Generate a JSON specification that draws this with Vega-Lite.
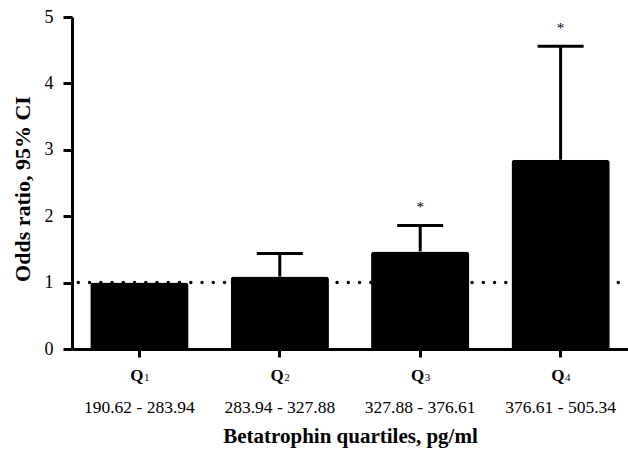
{
  "$schema": "https://vega.github.io/schema/vega-lite/v6.json",
  "width": 556,
  "height": 332,
  "autosize": {"type": "none"},
  "padding": {"left": 72, "top": 17, "right": 0, "bottom": 101},
  "background": "white",
  "config": {
    "view": {"stroke": null},
    "font": "Times New Roman, Liberation Serif, serif",
    "text": {"font": "Times New Roman, Liberation Serif, serif"},
    "axis": {"grid": false, "domainColor": "black", "tickColor": "black", "labelColor": "black", "titleColor": "black", "labelFont": "Times New Roman, Liberation Serif, serif", "titleFont": "Times New Roman, Liberation Serif, serif"}
  },
  "data": {
    "values": [
      {"range": "190.62 - 283.94", "q": "Q", "sub": "1", "or": 1.0, "upper": null, "sig": ""},
      {"range": "283.94 - 327.88", "q": "Q", "sub": "2", "or": 1.09, "upper": 1.44, "sig": ""},
      {"range": "327.88 - 376.61", "q": "Q", "sub": "3", "or": 1.47, "upper": 1.86, "sig": "*"},
      {"range": "376.61 - 505.34", "q": "Q", "sub": "4", "or": 2.85, "upper": 4.56, "sig": "*"}
    ]
  },
  "layer": [
    {
      "data": {"values": [{"ref": 1}]},
      "mark": {"type": "rule", "color": "black", "strokeWidth": 3.5, "strokeCap": "round", "strokeDash": [0.01, 11.24], "strokeDashOffset": 1.55},
      "encoding": {"y": {"field": "ref", "type": "quantitative", "scale": {"domain": [0, 5], "nice": false}}}
    },
    {
      "mark": {"type": "bar", "color": "black", "cornerRadiusTopLeft": 3, "cornerRadiusTopRight": 3},
      "encoding": {
        "x": {
          "field": "range", "type": "nominal", "sort": null,
          "scale": {"paddingInner": 0.3, "paddingOuter": 0.13},
          "axis": {
            "labelAngle": 0, "labelFontSize": 17.5, "labelPadding": 55, "labelBaseline": "alphabetic",
            "domainWidth": 3, "tickWidth": 3, "tickSize": 8,
            "title": "Betatrophin quartiles, pg/ml", "titleFontSize": 21, "titleFontWeight": "bold",
            "titleY": 93, "titleBaseline": "alphabetic"
          }
        },
        "y": {
          "field": "or", "type": "quantitative",
          "scale": {"domain": [0, 5], "nice": false},
          "axis": {
            "values": [0, 1, 2, 3, 4, 5], "format": "d", "labelFontSize": 18, "labelPadding": 10,
            "domainWidth": 3, "tickWidth": 3, "tickSize": 9,
            "title": "Odds ratio, 95% CI", "titleFontSize": 22, "titleFontWeight": "bold",
            "titleX": -43, "titleY": 171.5, "titleBaseline": "alphabetic", "titleAlign": "center"
          }
        }
      }
    },
    {
      "mark": {"type": "rule", "color": "black", "strokeWidth": 3},
      "encoding": {
        "x": {"field": "range", "type": "nominal", "sort": null},
        "y": {"field": "or", "type": "quantitative"},
        "y2": {"field": "upper"}
      }
    },
    {
      "mark": {"type": "tick", "color": "black", "size": 46, "thickness": 3, "opacity": 1},
      "encoding": {
        "x": {"field": "range", "type": "nominal", "sort": null},
        "y": {"field": "upper", "type": "quantitative"}
      }
    },
    {
      "mark": {"type": "text", "fontSize": 15, "baseline": "alphabetic", "dy": -13, "color": "black"},
      "encoding": {
        "x": {"field": "range", "type": "nominal", "sort": null},
        "y": {"field": "upper", "type": "quantitative"},
        "text": {"field": "sig"}
      }
    },
    {
      "mark": {"type": "text", "fontSize": 17, "fontWeight": "bold", "align": "right", "baseline": "alphabetic", "dx": 4, "dy": 31.7, "color": "black"},
      "encoding": {
        "x": {"field": "range", "type": "nominal", "sort": null},
        "y": {"datum": 0},
        "text": {"field": "q"}
      }
    },
    {
      "mark": {"type": "text", "fontSize": 11, "align": "left", "baseline": "alphabetic", "dx": 4.5, "dy": 31.7, "color": "black"},
      "encoding": {
        "x": {"field": "range", "type": "nominal", "sort": null},
        "y": {"datum": 0},
        "text": {"field": "sub"}
      }
    }
  ]
}
